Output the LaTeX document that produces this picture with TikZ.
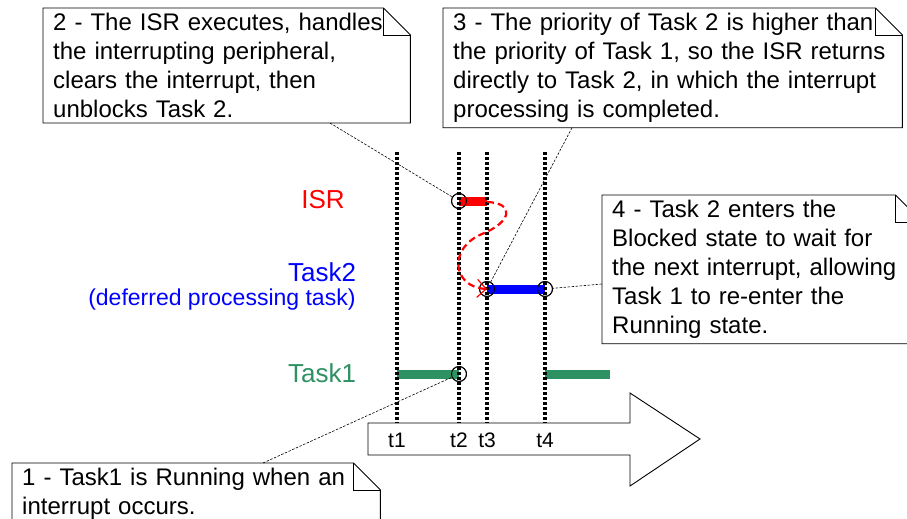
\documentclass[tikz,border=0pt]{standalone}
\usepackage{fontspec}
\setmainfont{Liberation Sans}
\usetikzlibrary{arrows.meta}
\definecolor{taskgreen}{RGB}{46,145,98}
% outline of a note with its top right corner folded
\newcommand{\foldnote}[1]{%
  \draw[noteline] (#1.north west) -- ([xshift=-27pt]#1.north east) -- ([yshift=-27pt]#1.north east) -- (#1.south east) -- (#1.south west) -- cycle;
  \draw[noteline] ([xshift=-27pt]#1.north east) |- ([yshift=-27pt]#1.north east);}
\begin{document}
\begin{tikzpicture}[x=1pt, y=-1pt,
  note/.style={anchor=north west, align=left, inner xsep=10pt, inner ysep=5pt, font=\fontsize{24}{29}\selectfont},
  noteline/.style={line width=0.9pt},
  leader/.style={line width=0.6pt, dash pattern=on 2.5pt off 1.5pt},
  tline/.style={line width=3.6pt, dash pattern=on 3pt off 2pt},
  bar/.style={line width=9pt},
  evt/.style={circle, draw, line width=0.9pt, minimum size=15pt, inner sep=0pt},
  lane/.style={font=\fontsize{26}{30}\selectfont},
  tlbl/.style={font=\fontsize{21}{24}\selectfont}]
\path[use as bounding box, clip] (0,0) rectangle (907,519);
% time axis
\draw[line width=0.9pt] (368,423) -- (630,423) -- (630,393) -- (700,439) -- (630,486) -- (630,455) -- (368,455) -- cycle;
\foreach \x/\lbl in {397/t1, 459/t2, 487/t3, 545/t4} \node[tlbl] (\lbl) at (\x,440) {\lbl};
% lanes
\node[lane, red] (isr) at (323,200) {ISR};
\node[lane, blue] (task2) at (322,272) {Task2};
\node[anchor=east, blue, font=\fontsize{23}{26}\selectfont] (defer) at (359,300) {(deferred processing task)};
\node[lane, taskgreen] (task1) at (322,373) {Task1};
% events
\node[evt] (e1) at (459,374) {};
\node[evt] (e2) at (459,201) {};
\node[evt] (e3) at (487,289) {};
\node[evt] (e4) at (545,289) {};
% execution bars
\draw[bar, taskgreen] (397,374) -- (e1.center);
\draw[bar, taskgreen] (545,374) -- (610,374);
\draw[bar, red] (e2.center) -- (e2.center -| e3);
\draw[bar, blue] (e3.center) -- (e4.center);
\foreach \x in {397, 459, 487, 545} \draw[tline] (\x,152) -- (\x,423);
\foreach \e in {e1, e2, e3, e4} \node[evt] at (\e) {};
% return from the ISR
\draw[red, line width=2.2pt, dash pattern=on 7pt off 4pt, -{Straight Barb[length=9pt, width=18pt, line width=1.2pt]}]
  (487,202) .. controls (515,203) and (512,222) .. (482,234) .. controls (448,248) and (452,287) .. (e3.center);
% notes
\node[note, text width=347pt] (n2) at (43,8) {2 - The ISR executes, handles\\the interrupting peripheral,\\clears the interrupt, then\\unblocks Task 2.};
\foldnote{n2}
\node[note, text width=439pt] (n3) at (443,8) {3 - The priority of Task 2 is higher than\\the priority of Task 1, so the ISR returns\\directly to Task 2, in which the interrupt\\processing is completed.};
\foldnote{n3}
\node[note, text width=300pt] (n4) at (602,195) {4 - Task 2 enters the\\Blocked state to wait for\\the next interrupt, allowing\\Task 1 to re-enter the\\Running state.};
\foldnote{n4}
\node[note, text width=348pt] (n1) at (12,463) {1 - Task1 is Running when an\\interrupt occurs.};
\foldnote{n1}
% leaders
\draw[leader] ([xshift=251pt]n1.north west) -- (e1);
\draw[leader] ([xshift=287pt]n2.south west) -- (e2);
\draw[leader] ([xshift=129pt]n3.south west) -- (e3);
\draw[leader] ([yshift=-89pt]n4.north west) -- (e4);
\end{tikzpicture}
\end{document}
